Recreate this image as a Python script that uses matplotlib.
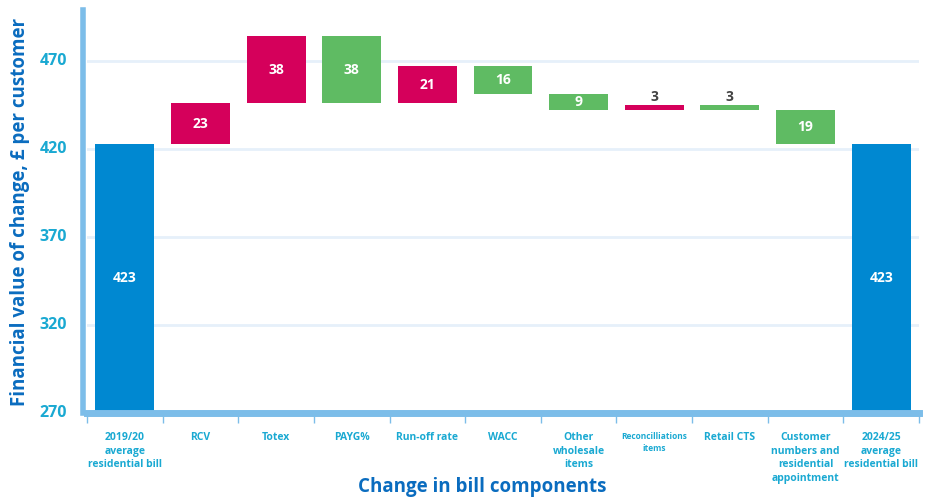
import numpy as np
import matplotlib.pyplot as plt

# Chart data
categories = ['2019/20\naverage\nresidential bill', 'RCV', 'Totex', 'PAYG%', 'Run-off rate',
              'WACC', 'Other\nwholesale\nitems', 'Reconcilliations\nitems', 'Retail CTS',
              'Customer\nnumbers and\nresidential\nappointment', '2024/25\naverage\nresidential bill']
start_bill = 423
changes = [23, 38, -38, 21, -16, -9, 3, -3, -19]
end_bill = 423
y_ticks = [270, 320, 370, 420, 470]

blue = '#0088d1'
pink = '#d5005b'
green = '#5fbb63'
tick_col = '#1aa9d2'
title_col = '#0a6cbf'
line_col = '#7cbde9'

plt.rcParams['font.family'] = ['Open Sans', 'DejaVu Sans']

fig = plt.figure(figsize=(9.27, 4.97), dpi=100)
ax = fig.add_axes([87 / 927, 1 - 413 / 497, 832 / 927, 403 / 497])

base = 270
x = np.arange(len(categories))
width = 0.78

# Build the waterfall
bottoms, heights, colors = [], [], []
bottoms.append(base)
heights.append(start_bill - base)
colors.append(blue)
level = start_bill
for c in changes:
    if c > 0:
        bottoms.append(level)
        colors.append(pink)
    else:
        bottoms.append(level + c)
        colors.append(green)
    heights.append(abs(c))
    level += c
bottoms.append(base)
heights.append(end_bill - base)
colors.append(blue)

ax.bar(x, heights, bottom=bottoms, width=width, color=colors, zorder=3)

labels = [start_bill] + [abs(c) for c in changes] + [end_bill]
for xi, b, h, lab in zip(x, bottoms, heights, labels):
    if h < 6:
        ax.text(xi, b + h + 0.8, str(lab), ha='center', va='bottom', color='#444444',
                fontsize=10, fontweight='bold', zorder=4)
    else:
        ax.text(xi, b + h / 2, str(lab), ha='center', va='center', color='white',
                fontsize=10, fontweight='bold', zorder=4)

ax.set_xlim(-0.5, len(categories) - 0.5)
ax.set_ylim(base, 499)
ax.set_yticks(y_ticks)
ax.set_yticklabels([])
ax.yaxis.grid(True, color='#e6f0fa', linewidth=2, zorder=0)
ax.tick_params(axis='y', length=0)
# y tick labels drawn as bold text
ytrans = ax.get_yaxis_transform()
for t in y_ticks:
    ax.text(-0.024, t, str(t), transform=ytrans, ha='right', va='center',
            color=tick_col, fontsize=11.5, fontweight='bold')

# category labels
ax.set_xticks(x)
ax.set_xticklabels(categories, fontsize=7.5, fontweight='bold', linespacing=1.3)
for t in ax.get_xticklabels():
    if t.get_text().startswith('Reconcilliations'):
        t.set_fontsize(6)
ax.tick_params(axis='x', which='major', length=0, pad=14, labelcolor=tick_col)
ax.set_xticks(np.arange(len(categories) + 1) - 0.5, minor=True)
ax.tick_params(axis='x', which='minor', length=7, width=1, color=line_col, direction='out')

for s in ['top', 'right']:
    ax.spines[s].set_visible(False)
ax.spines['left'].set_color(line_col)
ax.spines['left'].set_linewidth(4)
ax.spines['left'].set_position(('outward', 3))
ax.spines['bottom'].set_color(line_col)
ax.spines['bottom'].set_linewidth(5)
ax.spines['bottom'].set_zorder(5)

ax.set_ylabel('Financial value of change, £ per customer', color=title_col, fontsize=13.5,
              fontweight='bold')
ax.yaxis.set_label_coords(-0.068, 0.5)
ax.set_xlabel('Change in bill components', color=title_col, fontsize=13.5, fontweight='bold')
ax.xaxis.set_label_coords(0.475, -0.16)

fig.savefig('out.png', dpi=100)
